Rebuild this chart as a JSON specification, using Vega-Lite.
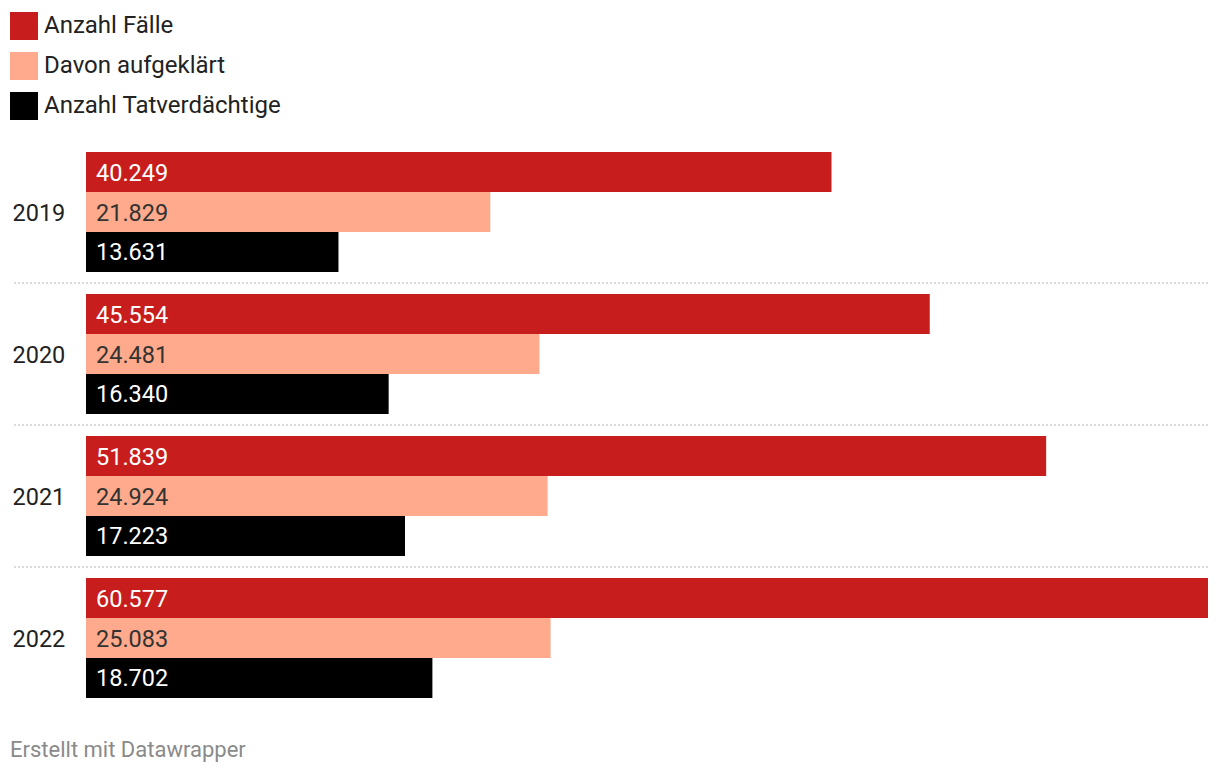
{
  "$schema": "https://vega.github.io/schema/vega-lite/v6.json",
  "autosize": {"type": "none"},
  "width": 1196,
  "height": 568,
  "padding": {"left": 12, "top": 141, "right": 12, "bottom": 67},
  "background": "white",
  "config": {
    "view": {"stroke": null},
    "font": "Roboto",
    "locale": {"number": {"decimal": ",", "thousands": ".", "grouping": [3], "currency": ["", " €"]}}
  },
  "title": {
    "text": "Erstellt mit Datawrapper",
    "orient": "bottom",
    "anchor": "start",
    "frame": "group",
    "offset": 31,
    "dx": -2,
    "font": "Roboto",
    "fontSize": 22,
    "fontWeight": "normal",
    "color": "#8a8a8a"
  },
  "datasets": {
    "bars": [
      {"Jahr": "2019", "Reihe": "Anzahl Fälle", "Wert": 40249},
      {"Jahr": "2019", "Reihe": "Davon aufgeklärt", "Wert": 21829},
      {"Jahr": "2019", "Reihe": "Anzahl Tatverdächtige", "Wert": 13631},
      {"Jahr": "2020", "Reihe": "Anzahl Fälle", "Wert": 45554},
      {"Jahr": "2020", "Reihe": "Davon aufgeklärt", "Wert": 24481},
      {"Jahr": "2020", "Reihe": "Anzahl Tatverdächtige", "Wert": 16340},
      {"Jahr": "2021", "Reihe": "Anzahl Fälle", "Wert": 51839},
      {"Jahr": "2021", "Reihe": "Davon aufgeklärt", "Wert": 24924},
      {"Jahr": "2021", "Reihe": "Anzahl Tatverdächtige", "Wert": 17223},
      {"Jahr": "2022", "Reihe": "Anzahl Fälle", "Wert": 60577},
      {"Jahr": "2022", "Reihe": "Davon aufgeklärt", "Wert": 25083},
      {"Jahr": "2022", "Reihe": "Anzahl Tatverdächtige", "Wert": 18702}
    ],
    "seps": [{"Jahr": "2019"}, {"Jahr": "2020"}, {"Jahr": "2021"}]
  },
  "layer": [
    {
      "data": {"name": "seps"},
      "mark": {"type": "rule", "color": "#cfcfcf", "strokeWidth": 1.5, "strokeDash": [2, 2]},
      "encoding": {
        "y": {"field": "Jahr", "type": "nominal", "bandPosition": 1.0917}
      }
    },
    {
      "data": {"name": "bars"},
      "mark": {"type": "bar"},
      "encoding": {
        "y": {
          "field": "Jahr", "type": "nominal",
          "scale": {"domain": ["2019", "2020", "2021", "2022"], "paddingInner": 0.155, "paddingOuter": 0.0775},
          "axis": {"title": null, "domain": false, "ticks": false, "labelAlign": "left", "labelPadding": 0, "labelFontSize": 23.5, "labelColor": "#222222", "labelFont": "Roboto", "labelOffset": 1.5}
        },
        "yOffset": {
          "field": "Reihe", "type": "nominal",
          "scale": {"domain": ["Anzahl Fälle", "Davon aufgeklärt", "Anzahl Tatverdächtige"], "paddingInner": 0, "paddingOuter": 0}
        },
        "x": {
          "field": "Wert", "type": "quantitative",
          "scale": {"domain": [0, 60577], "range": [74, 1196], "nice": false, "zero": true},
          "axis": null
        },
        "color": {
          "field": "Reihe", "type": "nominal",
          "scale": {"domain": ["Anzahl Fälle", "Davon aufgeklärt", "Anzahl Tatverdächtige"], "range": ["#c71e1d", "#ffaa8c", "#000000"]},
          "legend": {
            "title": null,
            "orient": "none",
            "legendX": -2,
            "legendY": -129,
            "direction": "vertical",
            "symbolType": "square",
            "symbolSize": 784,
            "symbolStrokeWidth": 0,
            "symbolOpacity": 1,
            "labelFontSize": 24,
            "labelFont": "Roboto",
            "labelColor": "#222222",
            "labelOffset": 6,
            "labelLimit": 0,
            "rowPadding": 12,
            "padding": 0
          }
        }
      }
    },
    {
      "data": {"name": "bars"},
      "mark": {"type": "text", "align": "left", "baseline": "middle", "dx": 10, "dy": 1.5, "fontSize": 23.5, "font": "Roboto"},
      "encoding": {
        "y": {"field": "Jahr", "type": "nominal"},
        "yOffset": {"field": "Reihe", "type": "nominal", "scale": {"domain": ["Anzahl Fälle", "Davon aufgeklärt", "Anzahl Tatverdächtige"]}},
        "x": {"datum": 0, "type": "quantitative"},
        "text": {"field": "Wert", "type": "quantitative", "format": ",d"},
        "color": {
          "condition": {"test": "datum.Reihe === 'Davon aufgeklärt'", "value": "#333333"},
          "value": "#ffffff"
        }
      }
    }
  ]
}
